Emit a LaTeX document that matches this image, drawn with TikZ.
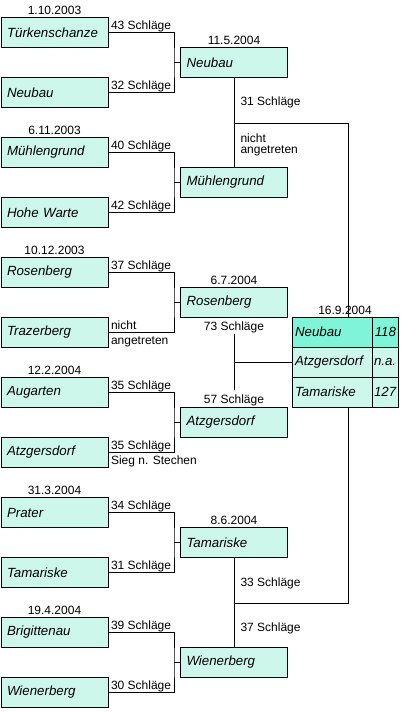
\documentclass[tikz,border=0pt]{standalone}
\usepackage{fontspec}
\setmainfont{Liberation Sans}
\definecolor{mint}{RGB}{206,247,236}
\definecolor{mintdark}{RGB}{128,244,216}
\begin{document}
\begin{tikzpicture}[x=1pt,y=-1pt,line width=1pt,
  team/.style={draw=black, fill=mint, anchor=north west, minimum width=107pt, minimum height=30pt,
    inner xsep=6pt, inner ysep=0pt, text width=95pt, align=left, font=\fontsize{13.3}{15}\selectfont\itshape},
  namecell/.style={draw=black, fill=mint, anchor=north west, outer sep=0pt, minimum width=80pt, minimum height=30pt,
    inner xsep=3pt, inner ysep=0pt, text width=74pt, align=left, font=\fontsize{13.3}{15}\selectfont\itshape},
  scorecell/.style={draw=black, fill=mint, anchor=north west, outer sep=0pt, minimum width=26pt, minimum height=30pt,
    inner xsep=2pt, inner ysep=0pt, text width=22pt, align=right, font=\fontsize{13.3}{15}\selectfont\itshape},
  score/.style={font=\fontsize{12}{11.5}\selectfont, inner sep=0pt},
  date/.style={font=\fontsize{12}{12}\selectfont, inner sep=0pt, anchor=base},
  wire/.style={draw=black, line width=1pt}
]
\useasboundingbox (0,0) rectangle (400,712);

% first round
\node[team] (l1) at (0.5,17) {Türkenschanze};
\node[team] (l2) at (0.5,77) {Neubau};
\node[team] (l3) at (0.5,137) {Mühlengrund};
\node[team] (l4) at (0.5,197) {Hohe Warte};
\node[team] (l5) at (0.5,257) {Rosenberg};
\node[team] (l6) at (0.5,317) {Trazerberg};
\node[team] (l7) at (0.5,377) {Augarten};
\node[team] (l8) at (0.5,437) {Atzgersdorf};
\node[team] (l9) at (0.5,497) {Prater};
\node[team] (l10) at (0.5,557) {Tamariske};
\node[team] (l11) at (0.5,617) {Brigittenau};
\node[team] (l12) at (0.5,677) {Wienerberg};

% second round
\node[team] (s1) at (180,47) {Neubau};
\node[team] (s2) at (180,167) {Mühlengrund};
\node[team] (s3) at (180,287) {Rosenberg};
\node[team] (s4) at (180,407) {Atzgersdorf};
\node[team] (s5) at (180,527) {Tamariske};
\node[team] (s6) at (180,647) {Wienerberg};

% final
\node[namecell, fill=mintdark] (f1n) at (292,317) {Neubau};
\node[scorecell, fill=mintdark] (f1s) at (f1n.north east) {118};
\node[namecell] (f2n) at (f1n.south west) {Atzgersdorf};
\node[scorecell] (f2s) at (f2n.north east) {n.a.};
\node[namecell] (f3n) at (f2n.south west) {Tamariske};
\node[scorecell] (f3s) at (f3n.north east) {127};

% dates
\node[date] (d1) at ([yshift=3pt]l1.north) {1.10.2003};
\node[date] (d2) at ([yshift=3pt]l3.north) {6.11.2003};
\node[date] (d3) at ([yshift=3pt]l5.north) {10.12.2003};
\node[date] (d4) at ([yshift=3pt]l7.north) {12.2.2004};
\node[date] (d5) at ([yshift=3pt]l9.north) {31.3.2004};
\node[date] (d6) at ([yshift=3pt]l11.north) {19.4.2004};
\node[date] (d7) at ([yshift=2.5pt]s1.north) {11.5.2004};
\node[date] (d8) at ([yshift=2.5pt]s3.north) {6.7.2004};
\node[date] (d9) at ([yshift=2.5pt]s5.north) {8.6.2004};
\node[date] (d10) at ([xshift=53pt,yshift=2.5pt]f1n.north west) {16.9.2004};

% first-round brackets
\foreach \a/\b/\s in {l1/l2/s1, l3/l4/s2, l5/l6/s3, l7/l8/s4, l9/l10/s5, l11/l12/s6}{
  \coordinate (j\s) at ([xshift=-6pt]\s.west);
  \draw[wire] (\a.east) -| (j\s) |- (\b.east);
  \draw[wire] (j\s) -- (\s.west);
}

% first-round scores
\node[score, anchor=base west] (c1) at ([xshift=2pt,yshift=3pt]l1.east) {43 Schläge};
\node[score, anchor=base west] (c2) at ([xshift=2pt,yshift=3pt]l2.east) {32 Schläge};
\node[score, anchor=base west] (c3) at ([xshift=2pt,yshift=3pt]l3.east) {40 Schläge};
\node[score, anchor=base west] (c4) at ([xshift=2pt,yshift=3pt]l4.east) {42 Schläge};
\node[score, anchor=base west] (c5) at ([xshift=2pt,yshift=3pt]l5.east) {37 Schläge};
\node[score, anchor=base west] (c6) at ([xshift=2pt,yshift=3pt]l6.east) {nicht};
\node[score, anchor=base west] (c6b) at ([xshift=2pt,yshift=-11.5pt]l6.east) {angetreten};
\node[score, anchor=base west] (c7) at ([xshift=2pt,yshift=3pt]l7.east) {35 Schläge};
\node[score, anchor=base west] (c8) at ([xshift=2pt,yshift=3pt]l8.east) {35 Schläge};
\node[score, anchor=base west] (c8b) at ([xshift=2pt,yshift=-11.5pt]l8.east) {Sieg n. Stechen};
\node[score, anchor=base west] (c9) at ([xshift=2pt,yshift=3pt]l9.east) {34 Schläge};
\node[score, anchor=base west] (c10) at ([xshift=2pt,yshift=3pt]l10.east) {31 Schläge};
\node[score, anchor=base west] (c11) at ([xshift=2pt,yshift=3pt]l11.east) {39 Schläge};
\node[score, anchor=base west] (c12) at ([xshift=2pt,yshift=3pt]l12.east) {30 Schläge};

% second-round connectors
\coordinate (xr) at (348,0);
\draw[wire] (s1.south) -- (s2.north);
\coordinate (k1) at ([yshift=-45pt]s1.south);
\draw[wire] (k1) -| (xr |- f1n.north);

\coordinate (m1) at ([yshift=-16pt]s3.south);
\coordinate (m2) at ([yshift=17pt]s4.north);
\draw[wire] (m1) -- (m2);
\draw[wire] (m1 |- f2n.west) -- (f2n.west);

\draw[wire] (s5.south) -- (s6.north);
\coordinate (k3) at ([yshift=-45pt]s5.south);
\draw[wire] (k3) -| (xr |- f3n.south);

% second-round scores
\node[score, anchor=base west] (t1) at ([xshift=6pt,yshift=-27pt]s1.south) {31 Schläge};
\node[score, anchor=north west, align=left] (t2) at ([xshift=6pt,yshift=-10pt]k1) {nicht\\angetreten};
\node[score, anchor=base] (t3) at ([yshift=-12pt]s3.south) {73 Schläge};
\node[score, anchor=base] (t4) at ([yshift=4pt]s4.north) {57 Schläge};
\node[score, anchor=base west] (t5) at ([xshift=6pt,yshift=-28pt]s5.south) {33 Schläge};
\node[score, anchor=base west] (t6) at ([xshift=6pt,yshift=16pt]s6.north) {37 Schläge};
\end{tikzpicture}
\end{document}
